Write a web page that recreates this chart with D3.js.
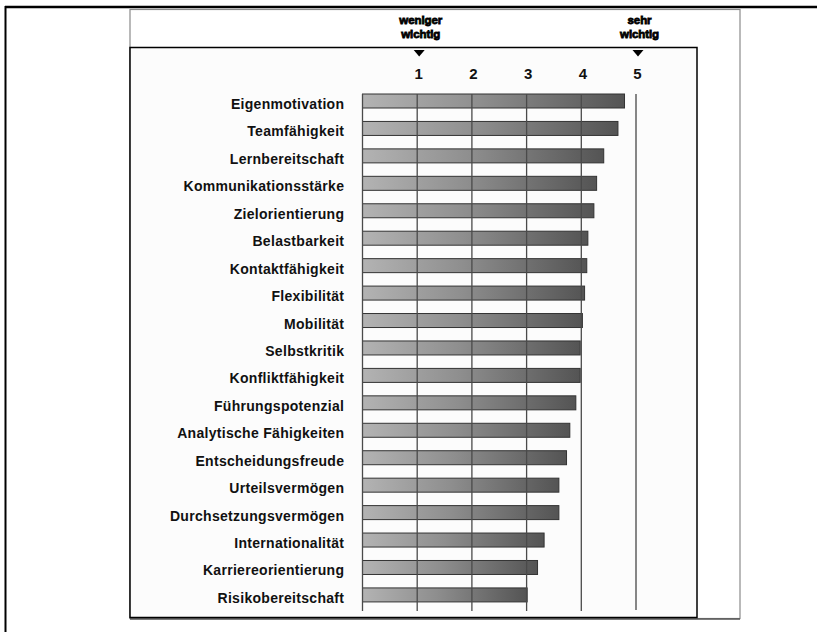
<!DOCTYPE html>
<html><head><meta charset="utf-8">
<script src="https://cdn.jsdelivr.net/npm/d3@7"></script>
<style>html,body{margin:0;padding:0;background:#fff;}svg{display:block;}</style>
</head><body>
<script>
const categories = ["Eigenmotivation","Teamfähigkeit","Lernbereitschaft","Kommunikationsstärke","Zielorientierung","Belastbarkeit","Kontaktfähigkeit","Flexibilität","Mobilität","Selbstkritik","Konfliktfähigkeit","Führungspotenzial","Analytische Fähigkeiten","Entscheidungsfreude","Urteilsvermögen","Durchsetzungsvermögen","Internationalität","Karriereorientierung","Risikobereitschaft"];
const values = [4.79,4.67,4.41,4.28,4.23,4.12,4.10,4.06,4.02,3.98,3.98,3.90,3.79,3.73,3.59,3.59,3.32,3.20,3.01];
const tickValues = [1,2,3,4,5];
const gridValues = [0,1,2,3,4];
const scaleNotes = [{v:1, lines:["weniger","wichtig"]},{v:5, lines:["sehr","wichtig"]}];

const W = 817, H = 632;
const svg = d3.select("body").append("svg").attr("width", W).attr("height", H);
const font = "'Liberation Sans', Arial, sans-serif";

const defs = svg.append("defs");
const grad = defs.append("linearGradient").attr("id","barGrad").attr("x1","0").attr("x2","1").attr("y1","0").attr("y2","0");
grad.append("stop").attr("offset","0%").attr("stop-color","#b3b3b3");
grad.append("stop").attr("offset","45%").attr("stop-color","#8e8e8e");
grad.append("stop").attr("offset","100%").attr("stop-color","#545454");

// outer frame
svg.append("line").attr("x1",5).attr("x2",W).attr("y1",7).attr("y2",7).attr("stroke","#000").attr("stroke-width",2.5);
svg.append("line").attr("x1",5.5).attr("x2",5.5).attr("y1",6).attr("y2",H).attr("stroke","#000").attr("stroke-width",2);

// container
svg.append("rect").attr("x",130).attr("y",9.5).attr("width",610).attr("height",609).attr("fill","#fff").attr("stroke","#8a8a8a").attr("stroke-width",1.2);
svg.append("line").attr("x1",130).attr("x2",740).attr("y1",619).attr("y2",619).attr("stroke","#555").attr("stroke-width",1.5);
// plot box
svg.append("rect").attr("x",130).attr("y",47.5).attr("width",567).attr("height",570).attr("fill","#fcfcfc").attr("stroke","#000").attr("stroke-width",1.5);

const x = d3.scaleLinear().domain([0,5]).range([362.5, 636]);
const y = d3.scaleBand().domain(categories).range([87.28, 608.64]).paddingInner(0.49).paddingOuter(0.245);

// bars
svg.append("g").selectAll("rect").data(categories).join("rect")
  .attr("x", x(0)).attr("y", d => y(d))
  .attr("width", (d,i) => x(values[i]) - x(0)).attr("height", y.bandwidth())
  .attr("fill","url(#barGrad)").attr("stroke","#333").attr("stroke-width",1);

// gridlines over bars
svg.append("g").selectAll("line").data(gridValues).join("line")
  .attr("x1", d => x(d)).attr("x2", d => x(d)).attr("y1", 94).attr("y2", 611)
  .attr("stroke","#4a4a4a").attr("stroke-width",1.3);
svg.append("line").attr("x1", x(5)).attr("x2", x(5)).attr("y1", 94).attr("y2", 610)
  .attr("stroke","#111").attr("stroke-width",1);

// category labels
svg.append("g").selectAll("text").data(categories).join("text")
  .attr("x", 344.3).attr("y", d => y(d) + 15)
  .attr("text-anchor","end").attr("font-family",font).attr("font-weight","bold")
  .attr("font-size","14px").attr("letter-spacing","0.3px").attr("fill","#111")
  .text(d => d);

// tick labels
svg.append("g").selectAll("text").data(tickValues).join("text")
  .attr("x", d => x(d) + 1.5).attr("y", 79)
  .attr("text-anchor","middle").attr("font-family",font).attr("font-weight","bold")
  .attr("font-size","15px").attr("fill","#111").text(d => d);

// scale notes with triangles
const notes = svg.append("g").selectAll("g").data(scaleNotes).join("g")
  .attr("transform", d => `translate(${x(d.v)+2},0)`);
notes.append("path").attr("d","M-5.5,50 L5.5,50 L0,56.5 Z").attr("fill","#000");
notes.each(function(d){
  const g = d3.select(this);
  d.lines.forEach((t,i) => {
    g.append("text").attr("x", 1.5).attr("y", 23.5 + i*14)
      .attr("text-anchor","middle").attr("font-family",font).attr("font-weight","bold")
      .attr("font-size","11.5px").attr("letter-spacing","-0.1px")
      .attr("fill","#000").attr("stroke","#000").attr("stroke-width",0.8).text(t);
  });
});
</script>
</body></html>
